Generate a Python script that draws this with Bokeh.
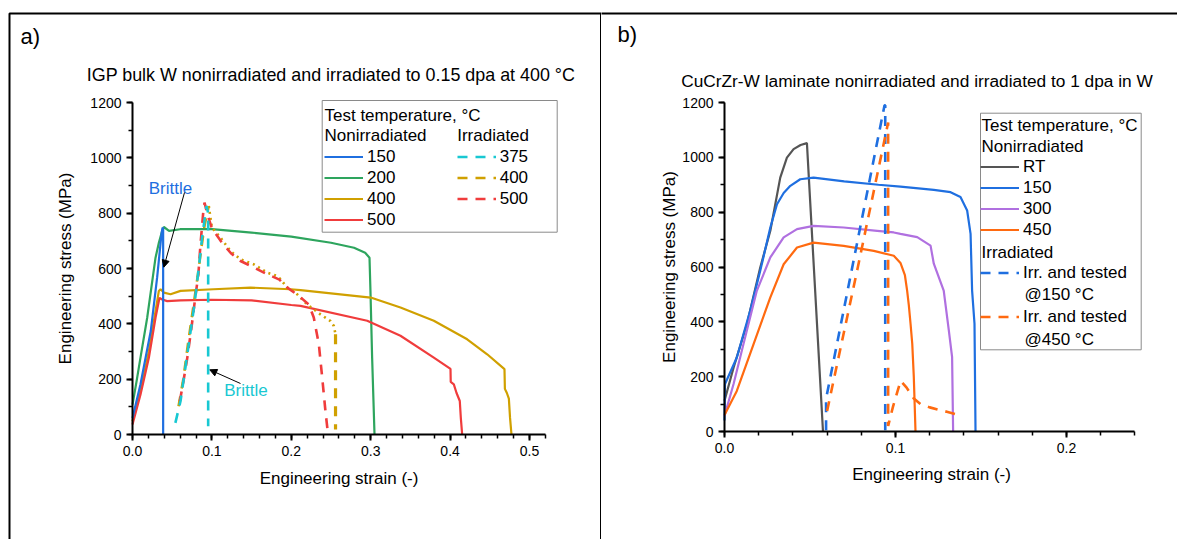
import numpy as np
from bokeh.plotting import figure
from bokeh.models import (Range1d, Label, Legend, LegendItem, BoxAnnotation,
                          Arrow, NormalHead, FixedTicker, NumeralTickFormatter)
from bokeh.layouts import row
from bokeh.embed import file_html
from bokeh.resources import INLINE

FONT = "Liberation Sans"

# ---------------- Panel a data (IGP bulk W) ----------------
a_xticks = [0.0, 0.1, 0.2, 0.3, 0.4, 0.5]
a_yticks = [0, 200, 400, 600, 800, 1000, 1200]

a150_x = [0, 0.005, 0.010, 0.016, 0.023, 0.031, 0.0365, 0.0378, 0.0386, 0.0386]
a150_y = [60, 120, 181, 270, 374, 567, 724, 748, 745, 0]

a200_x = [0, 0.005, 0.010, 0.0185, 0.029, 0.0332, 0.0374, 0.0395, 0.046, 0.06, 0.10, 0.15,
          0.20, 0.25, 0.279, 0.293, 0.2985, 0.2997, 0.3018, 0.3048]
a200_y = [108, 190, 277, 422, 639, 693, 736, 750, 736, 742, 742, 730,
          715, 693, 675, 657, 639, 519, 278, 0]

a400_x = [0, 0.0101, 0.0206, 0.029, 0.0332, 0.0353, 0.0395, 0.0479, 0.0605, 0.102, 0.1486,
          0.199, 0.2116, 0.30, 0.3375, 0.3795, 0.4215, 0.4467, 0.4685, 0.469, 0.4715, 0.474,
          0.4755, 0.4773]
a400_y = [48, 157, 301, 446, 519, 525, 513, 507, 519, 525, 531,
          525, 522, 495, 459, 411, 344, 290, 236, 165, 150, 130,
          60, 0]

a500_x = [0, 0.0101, 0.0206, 0.029, 0.034, 0.0374, 0.0437, 0.0605, 0.10, 0.15, 0.20, 0.2116,
          0.2956, 0.3375, 0.3795, 0.4005, 0.4008, 0.4047, 0.408, 0.4122, 0.4135, 0.4152]
a500_y = [36, 145, 277, 422, 494, 488, 482, 485, 487, 485, 468, 465,
          411, 357, 278, 237, 190, 181, 151, 121, 60, 0]

a375i_x = [0.054, 0.0605, 0.066, 0.072, 0.078, 0.083, 0.088, 0.0932, 0.0953, 0.0953]
a375i_y = [42, 121, 230, 350, 470, 590, 720, 826, 800, 30]

a400i_x = [0.058, 0.064, 0.070, 0.076, 0.082, 0.087, 0.091, 0.0961, 0.100, 0.111, 0.1234,
           0.136, 0.1528, 0.1696, 0.1822, 0.1864, 0.1948, 0.2032, 0.22, 0.2368, 0.2494,
           0.2536, 0.2557, 0.2557]
a400i_y = [102, 200, 330, 450, 570, 680, 760, 826, 748, 711, 663,
           633, 615, 585, 573, 561, 531, 519, 470, 434, 410,
           392, 362, 18]

a500i_x = [0.0596, 0.064, 0.069, 0.074, 0.079, 0.083, 0.0856, 0.089, 0.0907, 0.095, 0.100,
           0.111, 0.124, 0.136, 0.152, 0.170, 0.185, 0.195, 0.21, 0.222, 0.2283, 0.2347,
           0.2389, 0.243, 0.2455]
a500i_y = [120, 190, 277, 380, 494, 580, 687, 800, 838, 790, 745,
           700, 655, 627, 605, 579, 560, 531, 500, 470, 423, 326,
           206, 85, 20]

# ---------------- Panel b data (CuCrZr-W laminate) ----------------
b_xticks = [0.0, 0.1, 0.2]
b_yticks = [0, 200, 400, 600, 800, 1000, 1200]

bRT_x = [0, 0.0053, 0.0131, 0.0209, 0.0268, 0.0326, 0.0365, 0.0404, 0.0445, 0.0482, 0.0576]
bRT_y = [112, 233, 391, 598, 732, 926, 999, 1030, 1045, 1052, 0]

b150_x = [0, 0.0003, 0.0072, 0.015, 0.0209, 0.0268, 0.0307, 0.0346, 0.0385, 0.0443, 0.0521,
          0.07, 0.09, 0.1029, 0.1224, 0.1322, 0.138, 0.1419, 0.1439, 0.1448, 0.1462, 0.1468]
b150_y = [40, 173, 270, 440, 586, 744, 829, 870, 896, 920, 926,
          912, 900, 893, 881, 873, 855, 806, 721, 514, 393, 0]

b300_x = [0, 0.0053, 0.0111, 0.0189, 0.0268, 0.0346, 0.0424, 0.0521, 0.0697, 0.0893, 0.099,
          0.1029, 0.1127, 0.1205, 0.1224, 0.1282, 0.1312, 0.1331, 0.1337]
b300_y = [57, 173, 319, 513, 635, 708, 738, 750, 744, 732, 726,
          721, 709, 678, 612, 514, 368, 271, 0]

b450_x = [0, 0.0072, 0.017, 0.0268, 0.0346, 0.0424, 0.0521, 0.0697, 0.0873, 0.099, 0.1029,
          0.1055, 0.1068, 0.1078, 0.1088, 0.1098, 0.1107, 0.1112, 0.1117]
b450_y = [60, 148, 319, 489, 610, 671, 689, 677, 659, 641, 615,
          570, 514, 460, 393, 320, 200, 100, 0]

b150i_x = [0.0594, 0.0594, 0.0936, 0.0940, 0.0940]
b150i_y = [5, 120, 1190, 1190, 5]

b450i_x = [0.0600, 0.078, 0.0957, 0.0957, 0.0985, 0.1030, 0.1065, 0.1107, 0.1146, 0.120,
           0.130, 0.138]
b450i_y = [75, 600, 1127, 20, 90, 185, 160, 120, 100, 88,
           72, 58]

# ---------------- colours ----------------
C_BLUE = "#1f6fe0"
C_GREEN = "#2ea55e"
C_GOLD = "#d0a000"
C_RED = "#f03c3c"
C_CYAN = "#18c8d2"
C_GREY = "#555555"
C_PURPLE = "#b070e0"
C_ORANGE = "#ff6a10"

# ---------------- geometry (page px; canvas = page) ----------------
H = 539
A_LEFT, A_W = 0, 601
B_LEFT, B_W = 601, 576
A_X0, A_SX, A_Y0, A_SY = 132.0, 794.0, 434.0, 332.0 / 1200.0
B_X0, B_SX, B_Y0, B_SY = 724.0, 1710.0, 431.0, 329.0 / 1200.0


def a_pt(px, py):
    return (px - A_X0) / A_SX, (A_Y0 - py) / A_SY


def b_pt(px, py):
    return (px - B_X0) / B_SX, (B_Y0 - py) / B_SY


def make_fig(left, width, to_data, xticks, xminor, xmax):
    x0, y1 = to_data(left, 0)
    x1, y0 = to_data(left + width, H)
    p = figure(width=width, height=H, x_range=Range1d(x0, x1), y_range=Range1d(y0, y1),
               output_backend="svg", toolbar_location=None, min_border=0,
               min_border_left=0, min_border_right=0, min_border_top=0, min_border_bottom=0)
    p.grid.visible = False
    p.outline_line_color = None
    p.xaxis.fixed_location = 0
    p.yaxis.fixed_location = 0
    p.xaxis.bounds = (0, xmax)
    p.yaxis.bounds = (0, 1200)
    p.xaxis.ticker = FixedTicker(ticks=xticks, minor_ticks=xminor)
    p.xaxis.formatter = NumeralTickFormatter(format="0.0")
    p.yaxis.ticker = FixedTicker(ticks=a_yticks, minor_ticks=list(range(0, 1201, 100)))
    for ax in p.axis:
        ax.axis_line_width = 2
        ax.major_tick_line_width = 2
        ax.minor_tick_line_width = 1.5
        ax.major_tick_out = 6
        ax.major_tick_in = 0
        ax.minor_tick_out = 4
        ax.minor_tick_in = 0
        ax.major_label_text_font = FONT
        ax.major_label_text_font_size = "14px"
        ax.major_label_text_color = "black"
        ax.major_label_standoff = 5
    return p


def lab(p, xy, text, size, color="black", align="left", angle=0.0):
    p.add_layout(Label(x=xy[0], y=xy[1], text=text, text_font=FONT, text_font_size=size,
                       text_color=color, text_align=align, text_baseline="middle",
                       angle=angle))


def legend(items, loc, spacing=0):
    return Legend(items=items, location=loc, orientation="vertical", glyph_width=39,
                  glyph_height=21, label_height=21, label_standoff=4, spacing=spacing,
                  padding=0, margin=0, border_line_alpha=0, background_fill_alpha=0,
                  label_text_font=FONT, label_text_font_size="17px",
                  label_text_color="black")


def box(p, lt, rb, fill, color, width):
    p.add_layout(BoxAnnotation(left=lt[0], right=rb[0], top=lt[1], bottom=rb[1],
                               fill_color=fill if fill else "white",
                               fill_alpha=1 if fill else 0,
                               line_color=color, line_alpha=1, line_width=width))


def arrow(p, s, e):
    p.add_layout(Arrow(end=NormalHead(size=7, fill_color="black", line_color="black"),
                       x_start=s[0], y_start=s[1], x_end=e[0], y_end=e[1],
                       line_color="black", line_width=1))


SOLID_W = 2.2
DASH_W = 2.6
DASH = "10 8"

# ================= Panel a =================
pa = make_fig(A_LEFT, A_W, a_pt, a_xticks, [round(0.02 * k, 2) for k in range(27)], 0.52)

ra200 = pa.line(a200_x, a200_y, line_color=C_GREEN, line_width=SOLID_W)
ra400 = pa.line(a400_x, a400_y, line_color=C_GOLD, line_width=SOLID_W)
ra500 = pa.line(a500_x, a500_y, line_color=C_RED, line_width=SOLID_W)
ra150 = pa.line(a150_x, a150_y, line_color=C_BLUE, line_width=SOLID_W)
PK = 7   # index of the peak of the irradiated 400 curve
END = len(a400i_x) - 2
ra400i = pa.line(a400i_x[:PK + 1], a400i_y[:PK + 1], line_color=C_GOLD, line_width=DASH_W,
                 line_dash=DASH)
pa.line(a400i_x[PK:END + 1], a400i_y[PK:END + 1], line_color=C_GOLD, line_width=DASH_W,
        line_dash="2 4")
pa.line(a400i_x[END:], a400i_y[END:], line_color=C_GOLD, line_width=DASH_W + 0.6,
        line_dash=DASH)
ra500i = pa.line(a500i_x, a500i_y, line_color=C_RED, line_width=DASH_W, line_dash=DASH)
ra375i = pa.line(a375i_x, a375i_y, line_color=C_CYAN, line_width=DASH_W, line_dash=DASH)

box(pa, a_pt(9, 13), a_pt(600.5, 700), None, "black", 2)
box(pa, a_pt(321.7, 100), a_pt(556.7, 231.7), "white", "#8a8a8a", 1)
pa.add_layout(legend([LegendItem(label="150", renderers=[ra150]),
                      LegendItem(label="200", renderers=[ra200]),
                      LegendItem(label="400", renderers=[ra400]),
                      LegendItem(label="500", renderers=[ra500])],
                     (324 - A_LEFT, H - 230.2)))
pa.add_layout(legend([LegendItem(label="375", renderers=[ra375i]),
                      LegendItem(label="400", renderers=[ra400i]),
                      LegendItem(label="500", renderers=[ra500i])],
                     (456.7 - A_LEFT, H - 209.2)))
lab(pa, a_pt(324, 115), "Test temperature, °C", "17px")
lab(pa, a_pt(324, 134.5), "Nonirradiated", "17px")
lab(pa, a_pt(456.7, 134.5), "Irradiated", "17px")

lab(pa, a_pt(330.5, 74), "IGP bulk W nonirradiated and irradiated to 0.15 dpa at 400 °C",
    "17.9px", align="center")
lab(pa, a_pt(20, 36), "a)", "22px")
lab(pa, a_pt(338.5, 478), "Engineering strain (-)", "17px", align="center")
lab(pa, a_pt(65, 268), "Engineering stress (MPa)", "17px", align="center", angle=np.pi / 2)

lab(pa, a_pt(170, 188), "Brittle", "17px", color=C_BLUE, align="center")
lab(pa, a_pt(245.5, 390), "Brittle", "17px", color=C_CYAN, align="center")
arrow(pa, a_pt(184, 192), a_pt(163.3, 266.7))
arrow(pa, a_pt(240, 383), a_pt(209.3, 369.3))

# ================= Panel b =================
pb = make_fig(B_LEFT, B_W, b_pt, b_xticks, [round(0.02 * k, 2) for k in range(13)], 0.24)

rbRT = pb.line(bRT_x, bRT_y, line_color=C_GREY, line_width=SOLID_W)
rb150 = pb.line(b150_x, b150_y, line_color=C_BLUE, line_width=SOLID_W)
rb300 = pb.line(b300_x, b300_y, line_color=C_PURPLE, line_width=SOLID_W)
rb450 = pb.line(b450_x, b450_y, line_color=C_ORANGE, line_width=SOLID_W)
rb150i = pb.line(b150i_x, b150i_y, line_color=C_BLUE, line_width=DASH_W, line_dash=DASH)
rb450i = pb.line(b450i_x, b450i_y, line_color=C_ORANGE, line_width=DASH_W, line_dash=DASH)

box(pb, b_pt(560, 13), b_pt(1250, 700), None, "black", 2)
box(pb, b_pt(980, 112.7), b_pt(1140.7, 349.3), "white", "#8a8a8a", 1)
pb.add_layout(legend([LegendItem(label="RT", renderers=[rbRT]),
                      LegendItem(label="150", renderers=[rb150]),
                      LegendItem(label="300", renderers=[rb300]),
                      LegendItem(label="450", renderers=[rb450])],
                     (980 - B_LEFT, H - 240.2)))
pb.add_layout(legend([LegendItem(label="Irr. and tested", renderers=[rb150i]),
                      LegendItem(label="Irr. and tested", renderers=[rb450i])],
                     (980 - B_LEFT, H - 327.2), spacing=23))
lab(pb, b_pt(981, 125), "Test temperature, °C", "17px")
lab(pb, b_pt(981, 145.7), "Nonirradiated", "17px")
lab(pb, b_pt(981, 251.7), "Irradiated", "17px")
lab(pb, b_pt(1024, 294), "@150 °C", "17px")
lab(pb, b_pt(1024, 339.3), "@450 °C", "17px")

lab(pb, b_pt(916.5, 80), "CuCrZr-W laminate nonirradiated and irradiated to 1 dpa in W",
    "17.3px", align="center")
lab(pb, b_pt(617, 34), "b)", "22px")
lab(pb, b_pt(931, 474), "Engineering strain (-)", "17px", align="center")
lab(pb, b_pt(669, 266.5), "Engineering stress (MPa)", "17px", align="center", angle=np.pi / 2)

layout = row(pa, pb)
open("out.html", "w").write(file_html(layout, INLINE))
